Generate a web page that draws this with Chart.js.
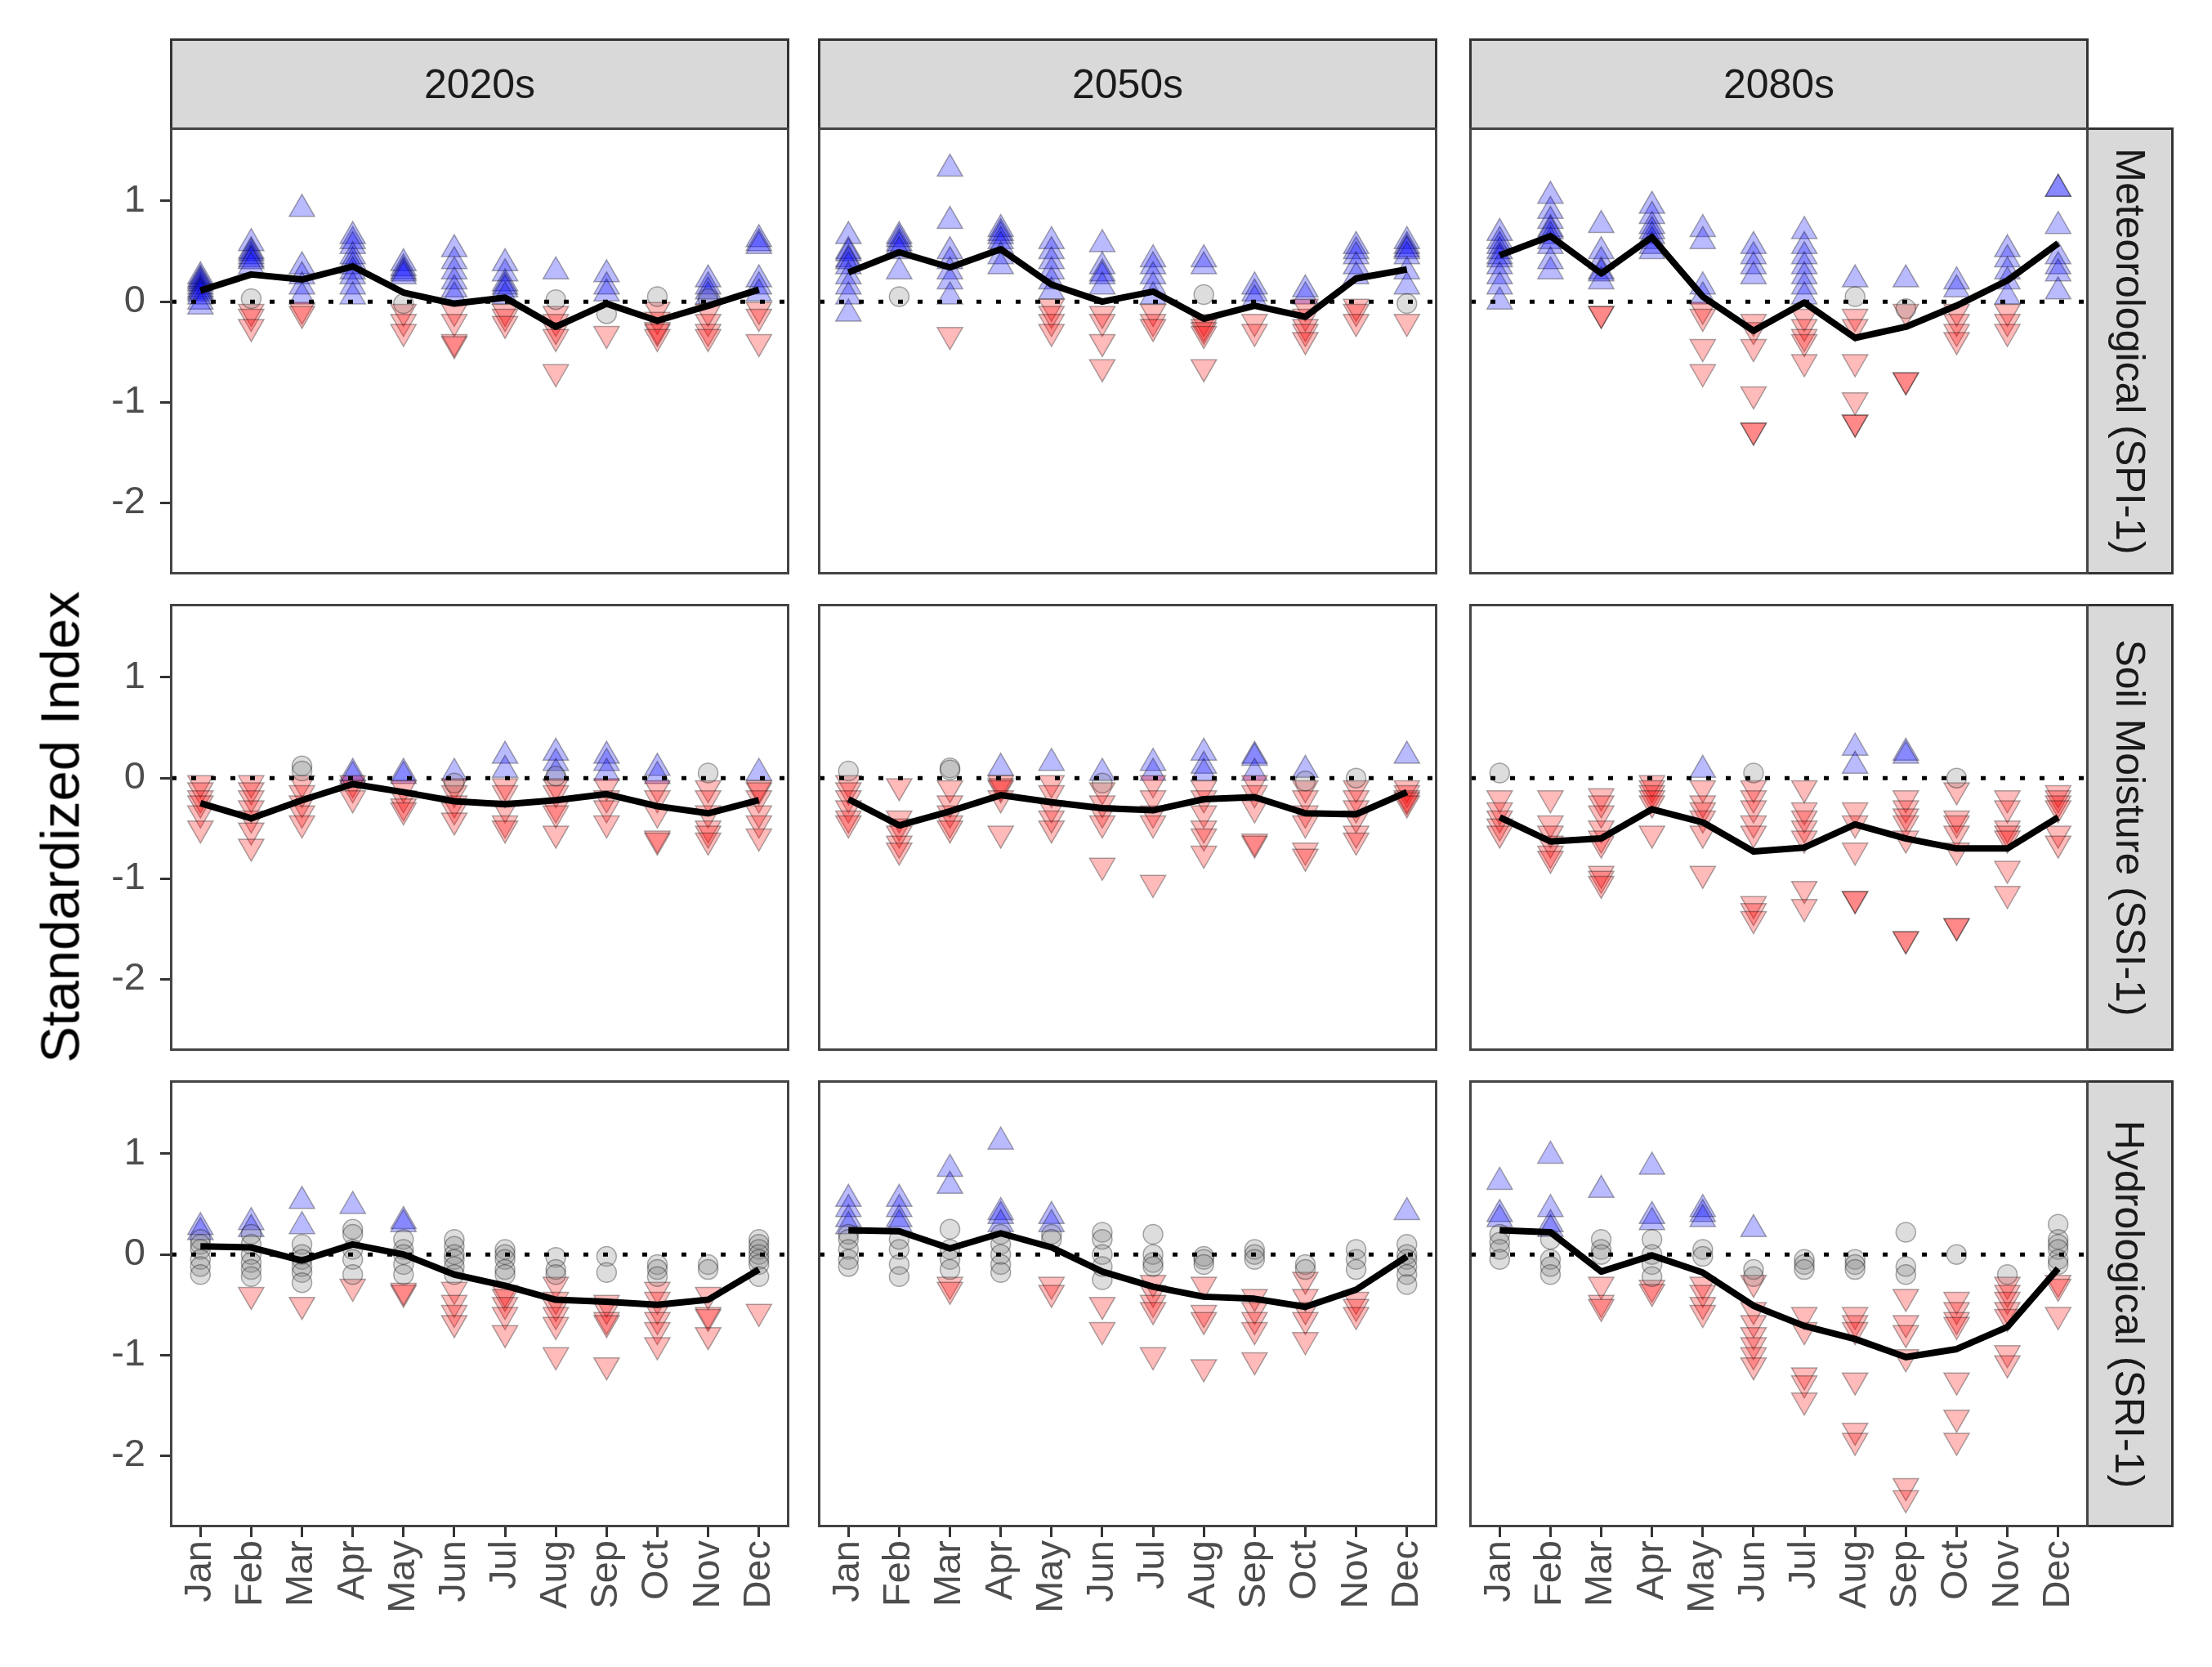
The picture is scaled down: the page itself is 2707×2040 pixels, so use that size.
<!DOCTYPE html>
<html>
<head>
<meta charset="utf-8">
<script src="https://cdn.jsdelivr.net/npm/chart.js@4.4.1/dist/chart.umd.min.js"></script>
<style>
  body { margin: 0; background: #fff; width: 2707px; height: 2040px; position: relative; overflow: hidden;
         font-family: "Liberation Sans", Arial, sans-serif; }
  canvas { position: absolute; }
  .strip { position: absolute; background: #d9d9d9; border: 3px solid #333; box-sizing: border-box;
           display: flex; align-items: center; justify-content: center; color: #1a1a1a; font-size: 50px; }
  .strip span { white-space: nowrap; }
  .strip.side span { transform: rotate(90deg); }
  .frame { position: absolute; border: 3px solid #444; box-sizing: border-box; pointer-events: none; }
  #ytitle { position: absolute; left: 73px; top: 1012px; transform: translate(-50%, -50%) rotate(-90deg);
            white-space: nowrap; font-size: 67px; color: #000; z-index: 5; }
</style>
</head>
<body>
<div id="ytitle">Standardized Index</div>
<script>
// categories and labels
const months = ['Jan', 'Feb', 'Mar', 'Apr', 'May', 'Jun', 'Jul', 'Aug', 'Sep', 'Oct', 'Nov', 'Dec'];
const periods = ['2020s', '2050s', '2080s'];
const indices = ['Meteorological (SPI-1)', 'Soil Moisture (SSI-1)', 'Hydrological (SRI-1)'];
const yTicks = [-2, -1, 0, 1];

// Meteorological (SPI-1)
const spiMean2020 = [0.11, 0.27, 0.22, 0.35, 0.09, -0.02, 0.04, -0.25, -0.02, -0.19, -0.04, 0.12];
const spiWet2020 = [[0.25, 0.22, 0.2, 0.18, 0.15, 0.12, 0.1, 0.08, 0.05, 0.0, -0.05], [0.58, 0.5, 0.48, 0.45, 0.42, 0.4, 0.35],
  [0.92, 0.35, 0.25, 0.15, 0.05], [0.65, 0.6, 0.55, 0.45, 0.4, 0.35, 0.3, 0.25, 0.15, 0.05], [0.38, 0.33, 0.3, 0.28, 0.25],
  [0.52, 0.4, 0.3, 0.2, 0.12, 0.05], [0.38, 0.28, 0.18, 0.15, 0.12, 0.05], [0.3], [0.27, 0.15, 0.08], [],
  [0.22, 0.15, 0.1, 0.05], [0.62, 0.58, 0.55, 0.22, 0.15, 0.08]];
const spiDry2020 = [[], [-0.1, -0.15, -0.25], [-0.08, -0.12], [], [-0.1, -0.2, -0.3], [-0.1, -0.2, -0.4, -0.42],
  [-0.1, -0.15, -0.22], [-0.12, -0.2, -0.28, -0.35, -0.7], [-0.32], [-0.08, -0.18, -0.28, -0.3, -0.35], [-0.1, -0.2, -0.3, -0.35],
  [-0.08, -0.15, -0.4]];
const spiNone2020 = [[], [0.03], [], [], [-0.02], [], [], [0.02], [-0.12], [0.05], [0.03], []];

const spiMean2050 = [0.29, 0.49, 0.34, 0.52, 0.17, 0.0, 0.1, -0.17, -0.04, -0.15, 0.23, 0.32];
const spiWet2050 = [[0.65, 0.5, 0.48, 0.42, 0.4, 0.35, 0.25, 0.15, 0.05, -0.12], [0.65, 0.62, 0.58, 0.55, 0.5, 0.3],
  [1.32, 0.8, 0.5, 0.4, 0.3, 0.2, 0.05], [0.72, 0.68, 0.65, 0.6, 0.55, 0.45, 0.35], [0.6, 0.5, 0.4, 0.3, 0.2, 0.1],
  [0.57, 0.35, 0.28, 0.25, 0.15], [0.42, 0.35, 0.25, 0.15, 0.05], [0.42, 0.35], [0.15, 0.08, 0.02], [0.12, 0.05],
  [0.55, 0.5, 0.45, 0.35, 0.25], [0.6, 0.55, 0.52, 0.5, 0.45, 0.3, 0.15]];
const spiDry2050 = [[], [], [-0.33], [], [-0.05, -0.12, -0.2, -0.3], [-0.12, -0.2, -0.4, -0.65], [-0.1, -0.2, -0.25],
  [-0.2, -0.25, -0.28, -0.32, -0.65], [-0.2, -0.3], [-0.05, -0.15, -0.25, -0.3, -0.38], [-0.05, -0.1, -0.2], [-0.2]];
const spiNone2050 = [[], [0.05], [], [], [], [], [], [0.07], [], [], [], [-0.02]];

const spiMean2080 = [0.46, 0.65, 0.28, 0.64, 0.05, -0.29, -0.01, -0.36, -0.25, -0.04, 0.21, 0.58];
const spiWet2080 = [[0.68, 0.6, 0.55, 0.5, 0.45, 0.42, 0.35, 0.25, 0.15, 0.0], [1.05, 0.9, 0.8, 0.72, 0.7, 0.65, 0.6, 0.55, 0.4, 0.3],
  [0.76, 0.5, 0.4, 0.3, 0.28, 0.2], [0.95, 0.85, 0.75, 0.7, 0.65, 0.6, 0.55, 0.5], [0.72, 0.6, 0.15, 0.05],
  [0.55, 0.45, 0.35, 0.25], [0.7, 0.55, 0.45, 0.35, 0.25, 0.15, 0.05], [0.22], [0.22], [0.2, 0.12],
  [0.52, 0.42, 0.3, 0.2, 0.05], [1.12, 1.12, 0.75, 0.45, 0.35, 0.28, 0.1]];
const spiDry2080 = [[], [], [-0.12, -0.12], [], [-0.08, -0.15, -0.45, -0.7], [-0.2, -0.28, -0.45, -0.92, -1.28, -1.28],
  [-0.15, -0.25, -0.35, -0.4, -0.6], [-0.15, -0.25, -0.6, -0.98, -1.2, -1.2], [-0.1, -0.78, -0.78],
  [-0.1, -0.2, -0.3, -0.38], [-0.1, -0.2, -0.3], []];
const spiNone2080 = [[], [], [], [], [], [], [], [0.05], [-0.07], [], [], []];

// Soil Moisture (SSI-1)
const ssiMean2020 = [-0.25, -0.4, -0.22, -0.06, -0.14, -0.23, -0.26, -0.22, -0.16, -0.28, -0.35, -0.22];
const ssiWet2020 = [[], [], [], [0.05, 0.02], [0.05, 0.02], [0.05], [0.22, 0.08], [0.25, 0.15, 0.05], [0.22, 0.15, 0.05],
  [0.1, 0.02], [], [0.05]];
const ssiDry2020 = [[-0.05, -0.12, -0.2, -0.25, -0.35, -0.5], [-0.05, -0.12, -0.2, -0.3, -0.4, -0.52, -0.68],
  [-0.05, -0.15, -0.25, -0.35, -0.45], [-0.05, -0.1, -0.2], [-0.1, -0.2, -0.28, -0.32], [-0.08, -0.15, -0.25, -0.32, -0.42],
  [-0.08, -0.15, -0.3, -0.45, -0.5], [-0.08, -0.15, -0.3, -0.35, -0.55], [-0.08, -0.2, -0.3, -0.45],
  [-0.1, -0.2, -0.35, -0.6, -0.62], [-0.1, -0.2, -0.35, -0.5, -0.55, -0.62], [-0.1, -0.12, -0.2, -0.35, -0.45, -0.58]];
const ssiNone2020 = [[], [], [0.12, 0.07], [], [], [-0.05], [], [0.02], [], [], [0.05], []];

const ssiMean2050 = [-0.21, -0.47, -0.33, -0.17, -0.24, -0.3, -0.32, -0.21, -0.19, -0.35, -0.36, -0.14];
const ssiWet2050 = [[], [], [], [0.1], [0.15], [0.05], [0.15, 0.05], [0.25, 0.12, 0.05], [0.22, 0.2, 0.05], [0.08], [], [0.22]];
const ssiDry2050 = [[-0.05, -0.12, -0.2, -0.3, -0.4, -0.45], [-0.08, -0.4, -0.48, -0.55, -0.65, -0.72],
  [-0.1, -0.25, -0.35, -0.45, -0.5], [-0.05, -0.08, -0.1, -0.2, -0.55], [-0.05, -0.15, -0.3, -0.4, -0.5],
  [-0.12, -0.25, -0.35, -0.45, -0.87], [-0.05, -0.2, -0.35, -0.45, -1.04], [-0.1, -0.2, -0.35, -0.5, -0.58, -0.75],
  [-0.05, -0.15, -0.3, -0.63, -0.65], [-0.1, -0.2, -0.35, -0.45, -0.72, -0.78], [-0.1, -0.2, -0.3, -0.4, -0.55, -0.62],
  [-0.1, -0.15, -0.2, -0.22, -0.25]];
const ssiNone2050 = [[0.07], [], [0.1, 0.08], [], [], [-0.05], [], [], [], [-0.03], [0.0], []];

const ssiMean2080 = [-0.39, -0.63, -0.6, -0.31, -0.44, -0.73, -0.69, -0.46, -0.6, -0.7, -0.7, -0.39];
const ssiWet2080 = [[], [], [], [], [0.08], [], [], [0.3, 0.12], [0.25, 0.22], [], [], []];
const ssiDry2080 = [[-0.2, -0.32, -0.4, -0.48, -0.55], [-0.2, -0.45, -0.55, -0.65, -0.75, -0.8],
  [-0.18, -0.25, -0.35, -0.5, -0.6, -0.65, -0.95, -1.0, -1.05], [-0.05, -0.1, -0.15, -0.2, -0.25, -0.55],
  [-0.1, -0.25, -0.32, -0.4, -0.55, -0.95], [-0.1, -0.2, -0.3, -0.45, -0.55, -1.25, -1.32, -1.4],
  [-0.1, -0.32, -0.4, -0.5, -0.6, -1.1, -1.28], [-0.32, -0.45, -0.72, -1.2, -1.2],
  [-0.2, -0.3, -0.38, -0.45, -0.6, -1.6, -1.6], [-0.12, -0.4, -0.45, -0.55, -0.72, -1.47, -1.47],
  [-0.2, -0.3, -0.5, -0.55, -0.6, -0.9, -1.15], [-0.15, -0.2, -0.25, -0.3, -0.55, -0.65]];
const ssiNone2080 = [[0.05], [], [], [], [], [0.05], [], [], [], [0.0], [], []];

// Hydrological (SRI-1)
const sriMean2020 = [0.08, 0.07, -0.06, 0.1, 0.0, -0.2, -0.31, -0.45, -0.47, -0.5, -0.45, -0.15];
const sriWet2020 = [[0.27, 0.22], [0.32, 0.25], [0.53, 0.28], [0.48], [0.33, 0.3], [], [], [], [], [], [], []];
const sriDry2020 = [[], [-0.4], [-0.5], [-0.32], [-0.38, -0.36], [-0.35, -0.48, -0.58, -0.68], [-0.38, -0.42, -0.5, -0.6, -0.78],
  [-0.3, -0.45, -0.52, -0.6, -0.7, -1.0], [-0.48, -0.55, -0.65, -0.68, -1.1], [-0.35, -0.45, -0.55, -0.65, -0.75, -0.9],
  [-0.4, -0.6, -0.62, -0.8], [-0.57]];
const sriNone2020 = [[0.15, 0.1, 0.05, -0.05, -0.12, -0.2], [0.2, 0.1, 0.0, -0.08, -0.15, -0.22],
  [0.1, 0.0, -0.05, -0.12, -0.18, -0.28], [0.25, 0.2, 0.05, -0.05, -0.2], [0.15, 0.05, 0.0, -0.1, -0.2],
  [0.15, 0.08, 0.0, -0.05, -0.12, -0.2], [0.05, 0.0, -0.05, -0.15, -0.2], [-0.03, -0.15, -0.2], [-0.02, -0.18],
  [-0.1, -0.15, -0.22], [-0.1, -0.15], [0.15, 0.1, 0.05, 0.0, -0.05, -0.1, -0.22]];

const sriMean2050 = [0.24, 0.23, 0.06, 0.21, 0.07, -0.17, -0.32, -0.42, -0.44, -0.52, -0.35, -0.02];
const sriWet2050 = [[0.55, 0.45, 0.35, 0.28], [0.55, 0.45, 0.35, 0.3], [0.85, 0.68], [1.12, 0.42, 0.38, 0.3], [0.38, 0.3],
  [], [], [], [], [], [], [0.42]];
const sriDry2050 = [[], [], [-0.3, -0.35], [], [-0.3, -0.38], [-0.5, -0.75], [-0.28, -0.38, -0.48, -0.55, -1.0],
  [-0.3, -0.58, -0.65, -1.12], [-0.42, -0.55, -0.65, -0.75, -1.05], [-0.25, -0.42, -0.55, -0.65, -0.85],
  [-0.45, -0.52, -0.6], []];
const sriNone2050 = [[0.2, 0.15, 0.05, -0.05, -0.12], [0.15, 0.05, -0.1, -0.22], [0.25, 0.05, -0.05, -0.15],
  [0.2, 0.1, 0.0, -0.1, -0.18], [0.2, 0.15], [0.22, 0.15, 0.0, -0.12, -0.25], [0.2, 0.0, -0.08, -0.12],
  [-0.02, -0.05, -0.1], [0.05, 0.0, -0.05], [-0.1, -0.15], [0.05, -0.05, -0.15], [0.1, 0.0, -0.05, -0.12, -0.2, -0.3]];

const sriMean2080 = [0.24, 0.22, -0.17, -0.01, -0.18, -0.51, -0.71, -0.84, -1.02, -0.94, -0.72, -0.14];
const sriWet2080 = [[0.72, 0.4, 0.35], [0.98, 0.45, 0.3, 0.25], [0.64], [0.87, 0.38, 0.32], [0.45, 0.4, 0.35], [0.25],
  [], [], [], [], [], []];
const sriDry2080 = [[], [], [-0.3, -0.48, -0.52], [-0.33, -0.37], [-0.3, -0.38, -0.5, -0.58],
  [-0.28, -0.55, -0.68, -0.8, -0.9, -1.0, -1.1], [-0.6, -0.75, -1.2, -1.28, -1.45],
  [-0.6, -0.68, -0.75, -1.25, -1.75, -1.85], [-0.42, -0.68, -0.78, -1.02, -2.3, -2.42],
  [-0.45, -0.55, -0.65, -0.7, -1.25, -1.62, -1.85], [-0.3, -0.38, -0.45, -0.55, -0.62, -0.98, -1.08], [-0.28, -0.32, -0.6]];
const sriNone2080 = [[0.2, 0.12, 0.05, -0.05], [0.15, -0.05, -0.12, -0.2], [0.15, 0.05, 0.0], [0.15, 0.0, -0.1, -0.22],
  [0.05, -0.02], [-0.15, -0.22], [-0.05, -0.1, -0.15], [-0.05, -0.1, -0.15], [0.22, -0.12, -0.2], [0.0], [-0.2],
  [0.3, 0.15, 0.1, 0.05, -0.05, -0.1]];

// panel grid: rows = index, cols = period
const panels = [
  [[spiMean2020, spiWet2020, spiDry2020, spiNone2020], [spiMean2050, spiWet2050, spiDry2050, spiNone2050], [spiMean2080, spiWet2080, spiDry2080, spiNone2080]],
  [[ssiMean2020, ssiWet2020, ssiDry2020, ssiNone2020], [ssiMean2050, ssiWet2050, ssiDry2050, ssiNone2050], [ssiMean2080, ssiWet2080, ssiDry2080, ssiNone2080]],
  [[sriMean2020, sriWet2020, sriDry2020, sriNone2020], [sriMean2050, sriWet2050, sriDry2050, sriNone2050], [sriMean2080, sriWet2080, sriDry2080, sriNone2080]]
];

// layout
const colX = [208, 1001, 1798];
const rowY = [156, 739, 1322];
const PW = 758, PH = 547;
const Y_AXIS_W = 130, X_AXIS_H = 140;
const FONT = '"Liberation Sans", Arial, sans-serif';

function addDiv(cls, left, top, w, h, text) {
  const d = document.createElement('div');
  d.className = cls;
  Object.assign(d.style, { left: left + 'px', top: top + 'px', width: w + 'px', height: h + 'px' });
  if (text) { const s = document.createElement('span'); s.textContent = text; d.appendChild(s); }
  document.body.appendChild(d);
  return d;
}

function toPoints(lists) {
  const pts = [];
  lists.forEach((vals, i) => vals.forEach(v => pts.push({ x: i + 1, y: v })));
  return pts;
}

const zeroLine = {
  id: 'zeroLine',
  afterDatasetsDraw(chart) {
    const { ctx, chartArea: a, scales: { y } } = chart;
    const py = y.getPixelForValue(0);
    ctx.save();
    ctx.beginPath();
    ctx.rect(a.left, a.top, a.width, a.height);
    ctx.clip();
    ctx.setLineDash([6, 18]);
    ctx.lineWidth = 5;
    ctx.strokeStyle = '#000';
    ctx.beginPath();
    ctx.moveTo(a.left + 2, py);
    ctx.lineTo(a.right, py);
    ctx.stroke();
    ctx.restore();
  }
};

// column strips and row strips
periods.forEach((p, c) => addDiv('strip', colX[c], 47, PW, 112, p));
indices.forEach((t, r) => addDiv('strip side', 2553, rowY[r], 107, PH, t));

panels.forEach((row, r) => {
  row.forEach(([mean, wet, dry, none], c) => {
    const showY = c === 0, showX = r === 2;
    const left = colX[c] - (showY ? Y_AXIS_W : 0);
    const w = PW + (showY ? Y_AXIS_W : 0);
    const h = PH + (showX ? X_AXIS_H : 0);
    const canvas = document.createElement('canvas');
    canvas.width = w; canvas.height = h;
    Object.assign(canvas.style, { left: left + 'px', top: rowY[r] + 'px', width: w + 'px', height: h + 'px' });
    document.body.appendChild(canvas);

    new Chart(canvas, {
      type: 'scatter',
      data: {
        datasets: [
          {
            type: 'line',
            data: mean.map((v, i) => ({ x: i + 1, y: v })),
            borderColor: '#000',
            borderWidth: 8,
            pointRadius: 0,
            tension: 0,
            borderJoinStyle: 'round',
            order: 0
          },
          {
            data: toPoints(none),
            pointStyle: 'circle',
            pointRadius: 12,
            backgroundColor: 'rgba(128,128,128,0.27)',
            borderColor: 'rgba(0,0,0,0.32)',
            borderWidth: 1.5,
            order: 1
          },
          {
            data: toPoints(dry),
            pointStyle: 'triangle',
            pointRotation: 180,
            pointRadius: 18,
            backgroundColor: 'rgba(255,0,0,0.27)',
            borderColor: 'rgba(0,0,0,0.32)',
            borderWidth: 1.5,
            order: 1
          },
          {
            data: toPoints(wet),
            pointStyle: 'triangle',
            pointRadius: 18,
            backgroundColor: 'rgba(0,0,255,0.27)',
            borderColor: 'rgba(0,0,0,0.32)',
            borderWidth: 1.5,
            order: 1
          }
        ]
      },
      options: {
        responsive: false,
        animation: false,
        devicePixelRatio: 1,
        layout: { padding: 0, autoPadding: false },
        plugins: { legend: { display: false }, tooltip: { enabled: false } },
        scales: {
          x: {
            type: 'linear',
            display: showX,
            min: 0.4,
            max: 12.6,
            afterBuildTicks: s => { s.ticks = months.map((m, i) => ({ value: i + 1 })); },
            afterFit: s => { s.height = showX ? X_AXIS_H : 0; s.paddingLeft = 0; s.paddingRight = 0; },
            ticks: {
              autoSkip: false, minRotation: 90, maxRotation: 90, padding: 4,
              color: '#4d4d4d', font: { size: 47, family: FONT },
              callback: (v, i) => months[i]
            },
            grid: { drawOnChartArea: false, drawTicks: true, tickLength: 12, color: '#333', lineWidth: 3 },
            border: { display: false }
          },
          y: {
            type: 'linear',
            display: showY,
            min: -2.71,
            max: 1.73,
            afterBuildTicks: s => { s.ticks = yTicks.map(v => ({ value: v })); },
            afterFit: s => { s.width = showY ? Y_AXIS_W : 0; s.paddingTop = 0; s.paddingBottom = 0; },
            ticks: {
              padding: 18, color: '#4d4d4d', font: { size: 47, family: FONT },
              callback: v => String(v)
            },
            grid: { drawOnChartArea: false, drawTicks: true, tickLength: 12, color: '#333', lineWidth: 3 },
            border: { display: false }
          }
        }
      },
      plugins: [zeroLine]
    });

    addDiv('frame', colX[c], rowY[r], PW, PH);
  });
});
</script>
</body>
</html>
